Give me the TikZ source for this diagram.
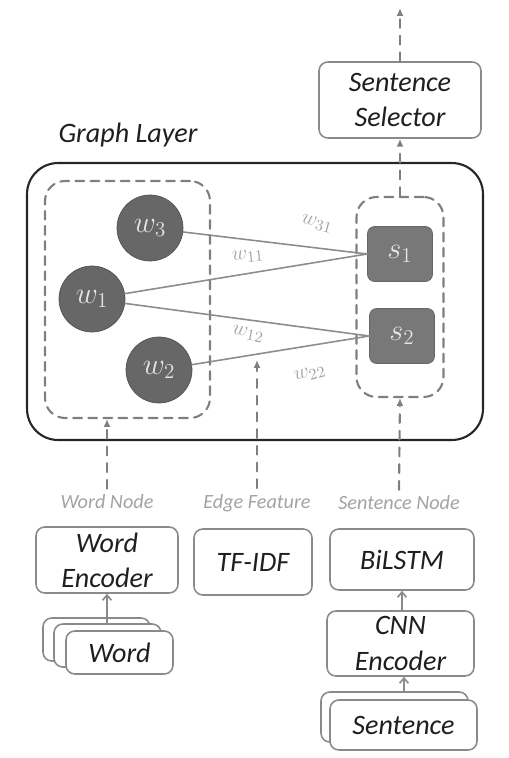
\documentclass[tikz,border=0pt]{standalone}
\usepackage{fontspec}
\setmainfont{Carlito}
\usetikzlibrary{arrows.meta,calc}
\definecolor{figgray}{HTML}{8A8A8A}
\definecolor{dashgray}{HTML}{7F7F7F}
\definecolor{nodegray}{HTML}{676767}
\definecolor{sentgray}{HTML}{787878}
\definecolor{nodetext}{HTML}{E4E4E4}
\definecolor{edgegray}{HTML}{8C8C8C}
\definecolor{labelgray}{HTML}{A3A3A3}
\definecolor{framedark}{HTML}{262626}
\tikzset{
every picture/.style={line cap=round,line join=round},
enc box/.style={
  draw=figgray,
  rounded corners=5pt,
  line width=0.9pt,
  fill=white,
  align=center,
  inner sep=2pt,
  text=black!88,
  font=\fontsize{16}{20}\selectfont\itshape
},
graph frame/.style={draw=framedark, rounded corners=0.62cm, line width=1.2pt,
  minimum width=9.12cm, minimum height=5.54cm},
group box/.style={draw=dashgray, rounded corners=0.4cm, line width=1.2pt,
  dash pattern=on 5pt off 3.6pt},
word node/.style={circle, fill=nodegray, draw=nodegray!80!black, line width=0.4pt,
  minimum size=1.32cm, inner sep=0pt, text=nodetext, font=\fontsize{17}{19}\selectfont},
sent node/.style={rounded corners=4pt, fill=sentgray, draw=sentgray!85!black, line width=0.4pt,
  minimum width=1.3cm, minimum height=1.1cm, inner sep=0pt, text=nodetext,
  font=\fontsize{17}{19}\selectfont},
graph edge/.style={draw=edgegray, line width=0.9pt},
edge label/.style={text=labelgray, font=\fontsize{12.5}{14}\selectfont, inner sep=1pt},
fig flow/.style={draw=figgray, -{Straight Barb[length=3pt,width=5pt]}, line width=0.9pt},
fig dashed/.style={draw=dashgray, -{Latex[length=4.5pt,width=4pt]}, line width=1.2pt,
  dash pattern=on 5pt off 4.5pt},
fig label/.style={text=labelgray, font=\fontsize{11.5}{14}\selectfont\itshape},
title label/.style={text=black!88, font=\fontsize{16}{20}\selectfont\itshape}
}
\begin{document}
\begin{tikzpicture}[x=0.02cm,y=-0.02cm]
\useasboundingbox (0,0) rectangle (509,758);

% graph layer
\node[title label] (gtitle) at (128,135) {Graph Layer};
\node[graph frame] (graph) at (255,301.5) {};
\node[group box, minimum width=3.3cm, minimum height=4.74cm] (wgroup) at (127.5,299.5) {};
\node[group box, minimum width=1.74cm, minimum height=4.0cm] (sgroup) at (400,297) {};

\node[word node] (w3) at (150,228) {$w_3$};
\node[word node] (w1) at (92,299) {$w_1$};
\node[word node] (w2) at (159,370) {$w_2$};
\node[sent node] (s1) at (400,254) {$s_1$};
\node[sent node] (s2) at (402,336) {$s_2$};

\draw[graph edge] (w3) -- (s1.west);
\draw[graph edge] (w1) -- (s1.west);
\draw[graph edge] (w1) -- (s2.west);
\draw[graph edge] (w2) -- (s2.west);
\node[edge label, rotate=-15] (l31) at (317,224) {$w_{31}$};
\node[edge label, rotate=5] (l11) at (248,256) {$w_{11}$};
\node[edge label, rotate=-12] (l12) at (248,334) {$w_{12}$};
\node[edge label, rotate=15] (l22) at (310,374) {$w_{22}$};

% selector on top
\node[enc box, minimum width=3.24cm, minimum height=1.52cm] (select) at (400,100) {Sentence\\Selector};
\coordinate (out) at (400,8);
\draw[fig dashed] (sgroup.north) -- (select.south);
\draw[fig dashed] (select.north) -- (out);

% inputs
\node[fig label] (wlab) at (107,502) {Word Node};
\node[fig label] (elab) at (257,503) {Edge Feature};
\node[fig label] (slab) at (399,503) {Sentence Node};
\coordinate (etip) at (257,360);
\draw[fig dashed] (wlab.north) -- (wlab.north |- wgroup.south);
\draw[fig dashed] (elab.north) -- (etip);
\draw[fig dashed] (slab.north) -- (sgroup.south);

\node[enc box, minimum width=2.84cm, minimum height=1.32cm] (wenc) at (107,560) {Word\\Encoder};
\node[enc box, minimum width=2.36cm, minimum height=1.32cm] (tfidf) at (253,562) {TF-IDF};
\node[enc box, minimum width=2.88cm, minimum height=1.22cm] (bilstm) at (402,559.5) {BiLSTM};
\node[enc box, minimum width=2.94cm, minimum height=1.3cm] (cnn) at (400.5,643.5) {CNN\\Encoder};

\node[enc box, minimum width=2.14cm, minimum height=0.86cm] (wordc) at (96.5,639.5) {};
\node[enc box, minimum width=2.14cm, minimum height=0.86cm] (wordb) at (107.5,645.5) {};
\node[enc box, minimum width=2.14cm, minimum height=0.86cm] (worda) at (119.5,652.5) {Word};
\node[enc box, minimum width=2.94cm, minimum height=1.0cm] (sentb) at (394.5,717) {};
\node[enc box, minimum width=2.94cm, minimum height=1.0cm] (senta) at (403.5,725) {Sentence};

\draw[fig flow] (wenc.south |- wordb.north) -- (wenc.south);
\draw[fig flow] (cnn.north -| bilstm.south) -- (bilstm.south);
\draw[fig flow] (sentb.north -| 404,0) -- (404,0 |- cnn.south);
\end{tikzpicture}
\end{document}
